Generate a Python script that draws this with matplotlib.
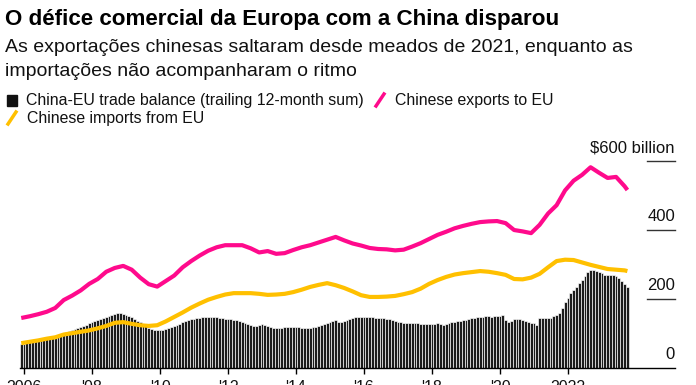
import numpy as np
import pandas as pd
import matplotlib
matplotlib.use('Agg')
import matplotlib.pyplot as plt
from matplotlib.lines import Line2D
from matplotlib.patches import Rectangle

plt.rcParams['font.family'] = ['Liberation Sans', 'DejaVu Sans']

# ── data (USD billion, trailing 12-month sums) ───────────────────────────────
START = '2005-12'

# monthly trade balance, Dec 2005 .. Oct 2023
balance = [70,
    71, 73, 75, 77, 79, 81, 83, 85, 87, 89, 90, 92,            # 2006
    93, 96, 100, 104, 107, 110, 113, 116, 119, 122, 126, 130,  # 2007
    133, 136, 139, 142, 145, 148, 151, 154, 157, 159, 160, 158,  # 2008
    155, 152, 147, 142, 137, 133, 127, 121, 116, 112, 110, 109,  # 2009
    109, 111, 113, 116, 119, 122, 125, 128, 132, 135, 139, 141,  # 2010
    143, 145, 146, 147, 148, 148, 149, 147, 148, 146, 145, 143,  # 2011
    142, 141, 139, 138, 136, 134, 131, 128, 125, 122, 122, 126,  # 2012
    128, 126, 122, 119, 117, 116, 116, 117, 118, 119, 119, 119,  # 2013
    119, 118, 117, 117, 116, 116, 118, 120, 123, 125, 127, 131,  # 2014
    133, 136, 138, 134, 133, 135, 138, 141, 144, 147, 148, 148,  # 2015
    148, 149, 147, 147, 146, 146, 145, 145, 143, 141, 139, 136,  # 2016
    134, 132, 130, 130, 130, 131, 131, 130, 129, 128, 128, 128,  # 2017
    128, 127, 130, 128, 126, 129, 131, 133, 134, 136, 137, 139,  # 2018
    140, 142, 144, 146, 148, 147, 149, 150, 151, 148, 150, 152,  # 2019
    152, 154, 140, 133, 137, 141, 142, 142, 140, 137, 133, 131,  # 2020
    130, 125, 145, 146, 144, 145, 145, 150, 155, 160, 175, 191,  # 2021
    203, 218, 227, 236, 245, 255, 266, 278, 284, 285, 282, 278,  # 2022
    274, 271, 270, 270, 271, 268, 262, 252, 243, 235]            # 2023

# quarterly points (Dec 2005, Mar 2006, ... Sep 2023) + Oct 2023
exports = [145, 150, 156, 163, 174, 197, 210, 225, 244, 258, 279, 290,
           296, 285, 262, 243, 236, 252, 268, 292, 310, 326, 340, 350,
           356, 356, 356, 347, 335, 339, 331, 333, 342, 350, 356, 364,
           372, 380, 370, 361, 355, 348, 345, 344, 341, 343, 352, 362,
           374, 386, 395, 405, 412, 418, 423, 425, 426, 420, 400, 396,
           391, 415, 448, 472, 515, 543, 560, 582, 566, 551, 554, 527,
           516]
imports = [72, 76, 80, 85, 89, 97, 101, 105, 109, 115, 122, 131,
           133, 128, 124, 122, 124, 135, 148, 161, 175, 187, 198, 206,
           213, 217, 217, 217, 215, 212, 213, 215, 220, 227, 235, 241,
           246, 240, 232, 222, 211, 206, 206, 207, 209, 214, 220, 230,
           244, 255, 264, 271, 275, 278, 281, 279, 275, 270, 258, 257,
           262, 273, 292, 310, 314, 313, 306, 299, 293, 287, 285, 283,
           281]

tick_years = [2006, 2008, 2010, 2012, 2014, 2016, 2018, 2020, 2022]
tick_labels = ['2006', "'08", "'10", "'12", "'14", "'16", "'18", "'20", '2022']
y_ticks = [0, 200, 400, 600]
y_labels = ['0', '200', '400', '$600 billion']

PINK = '#FF0A8C'
YELLOW = '#FFC000'

# ── x positions as decimal years ─────────────────────────────────────────────
months = pd.date_range(START, periods=len(balance), freq='MS')
t_month = months.year + (months.month - 1) / 12.0
idx_q = list(range(0, len(balance), 3)) + [len(balance) - 1]
t_line = np.asarray(t_month)[idx_q]

# ── figure ───────────────────────────────────────────────────────────────────
W, H = 696, 385
fig = plt.figure(figsize=(W / 100, H / 100), dpi=100)
ax = fig.add_axes([20 / W, (H - 368) / H, (675 - 20) / W, (368 - 150) / H])

ax.bar(t_month, balance, width=1 / 12, color='#1c1c1c',
       edgecolor='white', linewidth=0.45)
ax.plot(t_line, imports, color=YELLOW, lw=3.0, solid_capstyle='butt', zorder=3)
ax.plot(t_line, exports, color=PINK, lw=3.0, solid_capstyle='butt', zorder=4)

ax.set_xlim(2005.88, 2025.15)
ax.set_ylim(0, 632)

for s in ['top', 'right', 'left']:
    ax.spines[s].set_visible(False)
ax.spines['bottom'].set_color('black')
ax.spines['bottom'].set_linewidth(1.0)
ax.spines['bottom'].set_zorder(5)

ax.set_xticks(tick_years)
ax.set_xticklabels(tick_labels, fontsize=11.5, color='#111111')
ax.tick_params(axis='x', length=4, width=1, color='black', pad=5)
ax.set_yticks([])

# right-hand value labels with short rules
trans = ax.get_yaxis_transform()
x_rule0 = (647 - 20) / (675 - 20)
for v, lbl in zip(y_ticks, y_labels):
    if v > 0:
        ax.plot([x_rule0, 1.0], [v, v], color='#333333', lw=1.0,
                transform=trans, clip_on=False)
    ax.annotate(lbl, xy=(1.0, v), xycoords=trans, xytext=(0, 4),
                textcoords='offset points', ha='right', va='bottom',
                fontsize=12, color='#111111')

# ── titles ───────────────────────────────────────────────────────────────────
fig.text(5 / W, 1 - 19 / H, 'O défice comercial da Europa com a China disparou',
         fontsize=16.1, fontweight='bold', va='center', ha='left', color='black')
fig.text(5 / W, 1 - 48 / H,
         'As exportações chinesas saltaram desde meados de 2021, enquanto as',
         fontsize=14.0, va='center', ha='left', color='#111111')
fig.text(5 / W, 1 - 72 / H, 'importações não acompanharam o ritmo',
         fontsize=14.0, va='center', ha='left', color='#111111')

# ── legend ───────────────────────────────────────────────────────────────────
fig.add_artist(Rectangle((7 / W, 1 - 106 / H), 10 / W, 11 / H,
                         color='#111111', transform=fig.transFigure))
fig.text(26 / W, 1 - 100 / H, 'China-EU trade balance (trailing 12-month sum)',
         fontsize=11.4, va='center', ha='left', color='#111111')
fig.add_artist(Line2D([376 / W, 384 / W], [1 - 106 / H, 1 - 94 / H],
                      color=PINK, lw=2.5, transform=fig.transFigure))
fig.text(395 / W, 1 - 100 / H, 'Chinese exports to EU',
         fontsize=11.4, va='center', ha='left', color='#111111')
fig.add_artist(Line2D([8 / W, 16 / W], [1 - 124 / H, 1 - 112 / H],
                      color=YELLOW, lw=2.5, transform=fig.transFigure))
fig.text(27 / W, 1 - 118 / H, 'Chinese imports from EU',
         fontsize=11.4, va='center', ha='left', color='#111111')

fig.savefig('out.png', dpi=100)
